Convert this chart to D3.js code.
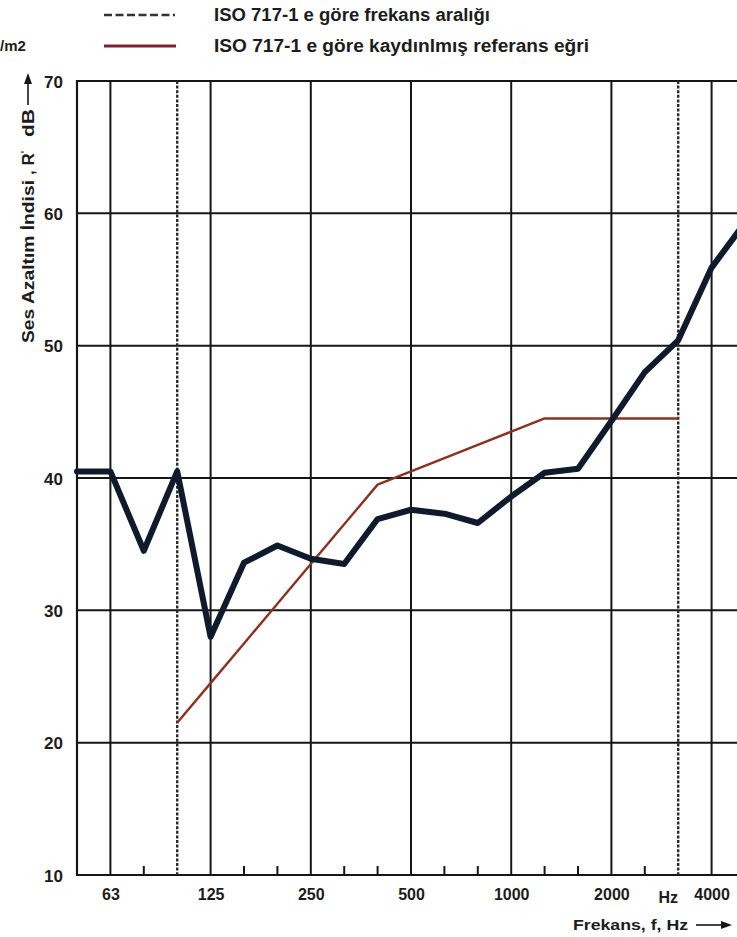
<!DOCTYPE html>
<html>
<head>
<meta charset="utf-8">
<script src="https://cdn.jsdelivr.net/npm/d3@7"></script>
<style>
  html, body { margin: 0; padding: 0; background: #fff; }
  svg { display: block; }
  text { font-family: "Liberation Sans", Arial, sans-serif; font-weight: bold; fill: #1c1c1c; }
</style>
</head>
<body>
<svg id="chart" width="737" height="937"></svg>
<script>
// Third-octave band centre frequencies (Hz)
const bands = ["50","63","80","100","125","160","200","250","315","400","500","630","800","1000","1250","1600","2000","2500","3150","4000","5000"];
// Measured sound reduction index R' (dB) per band
const measured = [40.5, 40.5, 34.5, 40.5, 28.0, 33.6, 34.9, 33.9, 33.5, 36.9, 37.6, 37.3, 36.6, 38.6, 40.4, 40.7, 44.3, 48.0, 50.4, 55.9, 59.3];
// Shifted ISO 717-1 reference curve, 100 Hz .. 3150 Hz
const refBands = ["100","125","160","200","250","315","400","500","630","800","1000","1250","1600","2000","2500","3150"];
const refValues = [21.5, 24.5, 27.5, 30.5, 33.5, 36.5, 39.5, 40.5, 41.5, 42.5, 43.5, 44.5, 44.5, 44.5, 44.5, 44.5];
// Grid and labelling
const octaveBands = ["63","125","250","500","1000","2000","4000"];
const rangeBands = ["100","3150"];
const minorBands = ["80","160","200","315","400","630","800","1250","1600","2500"];
const yTicks = [10, 20, 30, 40, 50, 60, 70];
const xLabels = ["63","125","250","500","1000","2000","4000"];

const svg = d3.select("#chart");
const plotLeft = 77, plotRight = 745, plotTop = 81, plotBottom = 875;

const x = d3.scalePoint().domain(bands).range([plotLeft, plotRight]);
const y = d3.scaleLinear().domain([10, 70]).range([plotBottom, plotTop]);

const ink = "#161616";

// Horizontal grid lines
svg.append("g").selectAll("line").data(yTicks).join("line")
  .attr("x1", plotLeft).attr("x2", plotRight)
  .attr("y1", d => y(d)).attr("y2", d => y(d))
  .attr("stroke", ink).attr("stroke-width", 2);

// Left frame
svg.append("line")
  .attr("x1", x("50")).attr("x2", x("50"))
  .attr("y1", y(70) - 1).attr("y2", y(10) + 1)
  .attr("stroke", ink).attr("stroke-width", 2.2);

// Octave grid lines
svg.append("g").selectAll("line").data(octaveBands).join("line")
  .attr("x1", d => x(d)).attr("x2", d => x(d))
  .attr("y1", y(70)).attr("y2", y(10))
  .attr("stroke", ink).attr("stroke-width", 2);

// ISO 717-1 frequency range limits
svg.append("g").selectAll("line").data(rangeBands).join("line")
  .attr("x1", d => x(d)).attr("x2", d => x(d))
  .attr("y1", y(70)).attr("y2", y(10))
  .attr("stroke", "#2a2a2a").attr("stroke-width", 2.4)
  .attr("stroke-dasharray", "3,1.6");

// Minor third-octave ticks on the bottom axis
svg.append("g").selectAll("line").data(minorBands).join("line")
  .attr("x1", d => x(d)).attr("x2", d => x(d))
  .attr("y1", y(10)).attr("y2", y(10) - 9)
  .attr("stroke", ink).attr("stroke-width", 2);

// Y axis labels
const yAxis = d3.axisLeft(y).tickValues(yTicks).tickSize(0).tickPadding(0);
const gy = svg.append("g").attr("transform", `translate(${plotLeft - 14},0)`).call(yAxis);
gy.select(".domain").remove();
gy.selectAll("text").style("font-size", "17px").attr("fill", "#1c1c1c")
  .style("font-family", null).attr("dy", "0.36em");

// X axis labels
const xAxis = d3.axisBottom(x).tickValues(xLabels).tickSize(0).tickPadding(0);
const gx = svg.append("g").attr("transform", `translate(0,${plotBottom + 14})`).call(xAxis);
gx.select(".domain").remove();
gx.selectAll("text").style("font-size", "16px").attr("fill", "#1c1c1c").style("font-family", null);
svg.append("text").attr("x", x("3150") - 10).attr("y", plotBottom + 28)
  .attr("text-anchor", "middle").style("font-size", "16px").text("Hz");

// X axis title with arrow
svg.append("text").attr("x", 573).attr("y", 930).style("font-size", "15px")
  .attr("textLength", 115).attr("lengthAdjust", "spacingAndGlyphs").text("Frekans, f, Hz");
svg.append("line").attr("x1", 696).attr("x2", 728).attr("y1", 925).attr("y2", 925)
  .attr("stroke", ink).attr("stroke-width", 1.6);
svg.append("path").attr("d", "M721,921 L732,925 L721,929 Z").attr("fill", ink);

// Y axis title: "Ses Azaltım İndisi , R'  dB" reading upward, arrow on top
const titleX = 34;
svg.append("text").attr("transform", `translate(${titleX},343) rotate(-90)`)
  .style("font-size", "17px").attr("textLength", 163).attr("lengthAdjust", "spacingAndGlyphs")
  .text("Ses Azaltım İndisi");
const rt = svg.append("text").attr("transform", `translate(${titleX},175) rotate(-90)`)
  .style("font-size", "17px");
rt.append("tspan").text(", R");
rt.append("tspan").attr("dy", "-0.5em").style("font-size", "10px").text("'");
svg.append("text").attr("transform", `translate(${titleX},137) rotate(-90)`)
  .style("font-size", "17px").attr("textLength", 28).attr("lengthAdjust", "spacingAndGlyphs").text("dB");
svg.append("line").attr("x1", 28).attr("x2", 28).attr("y1", 105).attr("y2", 80)
  .attr("stroke", ink).attr("stroke-width", 1.6);
svg.append("path").attr("d", "M24,84 L28,73 L32,84 Z").attr("fill", ink);

// Shifted reference curve
const refLine = d3.line().x((d, i) => x(refBands[i])).y(d => y(d));
svg.append("path").datum(refValues).attr("d", refLine)
  .attr("fill", "none").attr("stroke", "#8a3222").attr("stroke-width", 2.4)
  .attr("stroke-linejoin", "round");

// Measured curve
const measLine = d3.line().x((d, i) => x(bands[i])).y(d => y(d));
svg.append("path").datum(measured).attr("d", measLine)
  .attr("fill", "none").attr("stroke", "#0f1a2c").attr("stroke-width", 6)
  .attr("stroke-linejoin", "round").attr("stroke-linecap", "round");

// Legend
const legendItems = ["ISO 717-1 e göre frekans aralığı", "ISO 717-1 e göre kaydınlmış referans eğri"];
const legendWidths = [276, 375];
const legendY = [15, 46];
svg.append("line").attr("x1", 104).attr("x2", 175).attr("y1", legendY[0]).attr("y2", legendY[0])
  .attr("stroke", "#333").attr("stroke-width", 2.4).attr("stroke-dasharray", "8,3.5");
svg.append("line").attr("x1", 104).attr("x2", 176).attr("y1", legendY[1]).attr("y2", legendY[1])
  .attr("stroke", "#7a2230").attr("stroke-width", 3);
svg.append("g").selectAll("text").data(legendItems).join("text")
  .attr("x", 214).attr("y", (d, i) => legendY[i] + 6)
  .style("font-size", "18px")
  .attr("textLength", (d, i) => legendWidths[i]).attr("lengthAdjust", "spacingAndGlyphs")
  .text(d => d);

// Clipped unit label at the top left
svg.append("text").attr("x", 0).attr("y", 51).style("font-size", "15px").text("/m2");
</script>
</body>
</html>
